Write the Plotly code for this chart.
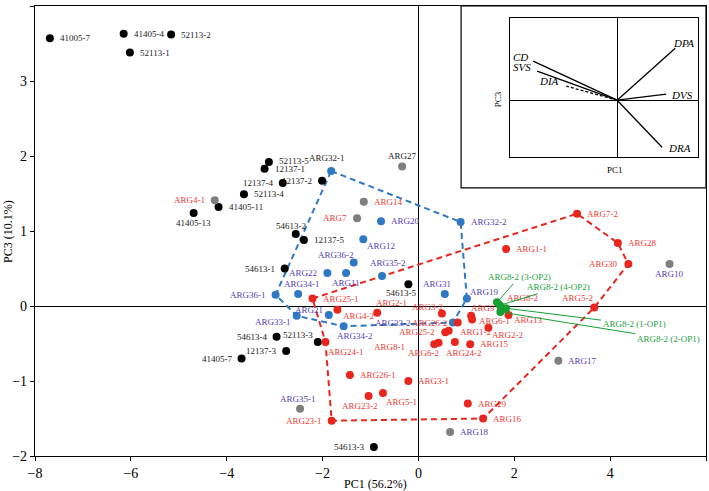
import plotly.graph_objects as go

# ---------------- data ----------------
black_names = ["41005-7", "41405-4", "52113-2", "52113-1", "52113-5", "12137-1", "12137-4", "12137-2",
               "52113-4", "41405-11", "41405-13", "54613-2", "12137-5", "54613-1", "54613-5",
               "54613-4", "52113-3", "12137-3", "41405-7", "54613-3"]
black_x = [-7.69, -6.15, -5.16, -6.02, -3.12, -3.21, -2.83, -2.01,
           -3.64, -4.17, -4.69, -2.56, -2.39, -2.79, -0.21,
           -2.96, -2.10, -2.76, -3.69, -0.93]
black_y = [3.57, 3.63, 3.62, 3.38, 1.92, 1.83, 1.64, 1.67,
           1.49, 1.32, 1.24, 0.96, 0.88, 0.50, 0.29,
           -0.41, -0.48, -0.60, -0.70, -1.88]

gray_names = ["ARG27", "ARG14", "ARG7", "ARG4-1", "ARG35-1", "ARG18", "ARG17", "ARG10"]
gray_x = [-0.34, -1.14, -1.28, -4.25, -2.47, 0.66, 2.92, 5.24]
gray_y = [1.86, 1.39, 1.17, 1.41, -1.37, -1.68, -0.73, 0.56]
gray_label_group = ["black", "red", "red", "red", "blue", "blue", "blue", "blue"]

blue_names = ["ARG32-1", "ARG32-2", "ARG20", "ARG12", "ARG36-2", "ARG22", "ARG11", "ARG35-2",
              "ARG34-1", "ARG36-1", "ARG33-1", "ARG21", "ARG34-2", "ARG31", "ARG19", "ARG33-2"]
blue_x = [-1.82, 0.88, -0.78, -1.15, -1.35, -1.90, -1.51, -0.76,
          -2.51, -2.98, -2.54, -1.87, -1.56, 0.55, 1.01, 0.72]
blue_y = [1.80, 1.12, 1.13, 0.89, 0.58, 0.44, 0.44, 0.40,
          0.16, 0.15, -0.13, -0.12, -0.27, 0.16, 0.10, -0.22]

red_names = ["ARG25-1", "ARG4-2", "ARG2-1", "ARG24-1", "ARG26-1", "ARG3-1", "ARG5-1", "ARG23-2",
             "ARG23-1", "ARG29", "ARG16", "ARG7-2", "ARG28", "ARG30", "ARG5-2", "ARG1-1",
             "ARG8-2", "ARG13", "ARG9", "ARG6-1", "ARG3-2", "ARG2-2", "ARG15", "ARG24-2",
             "ARG6-2", "ARG25-2", "ARG1-2", "ARG26-2", "ARG8-1"]
red_x = [-2.21, -1.69, -0.86, -1.94, -1.43, -0.21, -0.74, -1.04,
         -1.81, 1.03, 1.35, 3.31, 4.16, 4.38, 3.67, 1.83,
         1.72, 1.88, 1.10, 1.12, 0.49, 1.46, 1.08, 0.76,
         0.42, 0.56, 0.63, 0.82, 0.33]
red_y = [0.10, -0.05, -0.09, -0.48, -0.92, -1.00, -1.16, -1.20,
         -1.53, -1.30, -1.50, 1.23, 0.84, 0.56, -0.02, 0.76,
         -0.05, -0.12, -0.13, -0.18, -0.10, -0.29, -0.51, -0.48,
         -0.49, -0.35, -0.33, -0.22, -0.51]

green_names = ["ARG8-2 (3-OP2)", "ARG8-2 (4-OP2)", "ARG8-2 (1-OP1)", "ARG8-2 (2-OP1)"]
green_x = [1.64, 1.70, 1.83, 1.71]
green_y = [0.05, 0.01, -0.03, -0.08]

red_hull = ["ARG25-1", "ARG7-2", "ARG28", "ARG30", "ARG5-2", "ARG16", "ARG23-1", "ARG24-1", "ARG25-1"]
blue_hull = ["ARG32-1", "ARG32-2", "ARG19", "ARG33-2", "ARG34-2", "ARG33-1", "ARG36-1", "ARG32-1"]

load_names = ["DPA", "DVS", "DRA", "CD", "SVS", "DIA"]
load_x = [0.309, 0.261, 0.239, -0.447, -0.426, -0.271]
load_y = [0.374, 0.043, -0.338, 0.281, 0.209, 0.101]

x_ticks = [-8, -6, -4, -2, 0, 2, 4, 6]
y_ticks = [-2, -1, 0, 1, 2, 3, 4]

# ---------------- styles ----------------
FONT = "Liberation Serif"
LBL = 9
C_BLACK = "#000000"
C_GRAY = "#7f7f7f"
C_BLUE = "#2f78c4"
C_RED = "#e8261d"
C_GREEN = "#16a034"
T_BLACK = "#222222"
T_BLUE = "#5540b8"
T_RED = "#ec3a33"
T_GREEN = "#1aa33a"
label_color = {"black": T_BLACK, "red": T_RED, "blue": T_BLUE}

R = (8, 0, "left")
L = (-8, 0, "right")
# (dx px, dy px downward, anchor)
label_off = {
    "41005-7": R, "41405-4": R, "52113-2": R, "52113-1": R, "52113-5": (8, -1, "left"), "12137-1": R,
    "12137-4": L, "12137-2": L, "52113-4": R, "41405-11": R, "41405-13": (0, 10, "center"),
    "54613-2": (-5, -8, "center"), "12137-5": R, "54613-1": L, "54613-5": (-7, 9, "center"),
    "54613-4": L, "52113-3": (-3, -7, "right"), "12137-3": L, "41405-7": L, "54613-3": L,
    "ARG27": (0, -11, "center"), "ARG14": R, "ARG7": L, "ARG4-1": L, "ARG35-1": (-2, -10, "center"),
    "ARG18": R, "ARG17": R, "ARG10": (0, 10, "center"),
    "ARG32-1": (-4, -13, "center"), "ARG32-2": R, "ARG20": R, "ARG12": (2, 7, "left"),
    "ARG36-2": (2, -8, "right"), "ARG22": L, "ARG11": (0, 10, "center"), "ARG35-2": (6, -13, "center"),
    "ARG34-1": (4, -10, "center"), "ARG36-1": L, "ARG33-1": (-4, 6, "right"), "ARG21": (-4, -5, "right"),
    "ARG34-2": (11, 10, "center"), "ARG31": (-8, -10, "center"), "ARG19": (1, -7, "left"),
    "ARG33-2": (-40, 0, "right"),
    "ARG25-1": R, "ARG4-2": (4, 6, "left"), "ARG2-1": (-3, -10, "left"), "ARG24-1": (1, 10, "left"),
    "ARG26-1": R, "ARG3-1": R, "ARG5-1": (1, 9, "left"), "ARG23-2": (-9, 10, "center"), "ARG23-1": L,
    "ARG29": R, "ARG16": R, "ARG7-2": R, "ARG28": R, "ARG30": L, "ARG5-2": (1, -10, "right"),
    "ARG1-1": R, "ARG8-2": (4, -12, "left"), "ARG13": (3, 5, "left"), "ARG9": (-2, -8, "left"),
    "ARG6-1": (5, 1, "left"), "ARG3-2": (3, -7, "right"), "ARG2-2": (2, 7, "left"), "ARG15": R,
    "ARG24-2": (9, 11, "center"), "ARG6-2": (2, 10, "right"), "ARG25-2": L, "ARG1-2": (9, 1, "left"),
    "ARG26-2": (-8, 0, "right"), "ARG8-1": (-27, 3, "right"),
}
# green leader label text centres relative to point (px right, px up)
green_offsets = [(22, 25), (59, 18), (128, -16), (168, -27)]
# inset label placement (anchor, xshift, yshift)
inset_lbl = {"DPA": ("left", -4, 5), "DVS": ("left", 3, -1), "DRA": ("left", 4, -1),
             "CD": ("right", -3, 4), "SVS": ("right", -4, 4), "DIA": ("right", -5, 5)}

fig = go.Figure()
annos = []

def lookup(name, names, xs, ys):
    i = names.index(name)
    return xs[i], ys[i]

# hull polygons
for hull, names, xs, ys, col in [(red_hull, red_names, red_x, red_y, C_RED),
                                 (blue_hull, blue_names, blue_x, blue_y, C_BLUE)]:
    hx = [lookup(n, names, xs, ys)[0] for n in hull]
    hy = [lookup(n, names, xs, ys)[1] for n in hull]
    fig.add_trace(go.Scatter(x=hx, y=hy, mode="lines", line=dict(color=col, width=2, dash="6px,4px"),
                             hoverinfo="skip", showlegend=False))

def add_points(names, xs, ys, mcol, tcols):
    fig.add_trace(go.Scatter(x=xs, y=ys, mode="markers", marker=dict(color=mcol, size=8),
                             showlegend=False, hovertext=names))
    for n, px, py, tc in zip(names, xs, ys, tcols):
        dx, dy, anc = label_off[n]
        annos.append(dict(x=px, y=py, xref="x", yref="y", text=n, showarrow=False,
                          xanchor=anc, yanchor="middle", xshift=dx, yshift=-dy,
                          font=dict(family=FONT, size=LBL, color=tc)))

add_points(black_names, black_x, black_y, C_BLACK, [T_BLACK] * len(black_names))
add_points(gray_names, gray_x, gray_y, C_GRAY, [label_color[g] for g in gray_label_group])
add_points(blue_names, blue_x, blue_y, C_BLUE,
           [T_BLACK if n == "ARG32-1" else T_BLUE for n in blue_names])
add_points(red_names, red_x, red_y, C_RED, [T_RED] * len(red_names))
fig.add_trace(go.Scatter(x=green_x, y=green_y, mode="markers", marker=dict(color=C_GREEN, size=8),
                         showlegend=False, hovertext=green_names))

for n, gx, gy, (ax, ay) in zip(green_names, green_x, green_y, green_offsets):
    annos.append(dict(x=gx, y=gy, xref="x", yref="y", text=n, showarrow=True, arrowhead=0,
                      arrowcolor=C_GREEN, arrowwidth=1, ax=ax, ay=-ay, standoff=0,
                      font=dict(family=FONT, size=LBL, color=T_GREEN)))

# inset loading vectors
for n, lx, ly in zip(load_names, load_x, load_y):
    fig.add_trace(go.Scatter(x=[0, lx], y=[0, ly], mode="lines", xaxis="x2", yaxis="y2",
                             line=dict(color="black", width=1.3, dash="3px,2px" if n == "DIA" else "solid"),
                             showlegend=False, hoverinfo="skip"))
for n, lx, ly in zip(load_names, load_x, load_y):
    anc, sx, sy = inset_lbl[n]
    annos.append(dict(x=lx, y=ly, xref="x2", yref="y2", text="<i>" + n + "</i>", showarrow=False,
                      xanchor=anc, xshift=sx, yshift=sy, font=dict(family=FONT, size=11, color="black")))

annos.append(dict(x=0.56, y=-0.04, xref="x2 domain", yref="y2 domain", text="PC1", showarrow=False,
                  yanchor="top", font=dict(family=FONT, size=9, color="black")))
annos.append(dict(x=-0.03, y=0.42, xref="x2 domain", yref="y2 domain", text="PC3", showarrow=False,
                  textangle=-90, xanchor="right", font=dict(family=FONT, size=9, color="black")))

# main axis titles
annos.append(dict(x=0.507, y=-0.042, xref="paper", yref="paper", text="PC1 (56.2%)", showarrow=False,
                  yanchor="top", font=dict(family=FONT, size=12, color="black")))
annos.append(dict(x=-0.027, y=0.5, xref="paper", yref="paper", text="PC3 (10.1%)", showarrow=False,
                  textangle=-90, xanchor="right", font=dict(family=FONT, size=12, color="black")))

shapes = [dict(type="rect", xref="paper", yref="paper", x0=0.635, x1=1.0, y0=0.596, y1=1.0,
               line=dict(color="black", width=1.2), fillcolor="rgba(0,0,0,0)", layer="above")]

axis_common = dict(ticks="outside", ticklen=4, tickcolor="black", showline=True, linecolor="black",
                   linewidth=1.3, mirror=True, showgrid=False, zeroline=True, zerolinecolor="black",
                   zerolinewidth=1.3, automargin=False, tickfont=dict(family=FONT, size=14))

fig.update_layout(
    width=709, height=491,
    margin=dict(l=35, r=3, t=6, b=35),
    paper_bgcolor="white", plot_bgcolor="white",
    font=dict(family=FONT, size=14, color="black"),
    annotations=annos, shapes=shapes,
    xaxis=dict(range=[-8, 6], tickvals=x_ticks, **axis_common),
    yaxis=dict(range=[-2, 4], tickvals=y_ticks, **axis_common),
    xaxis2=dict(domain=[0.708, 0.988], anchor="y2", range=[-0.57, 0.43], showticklabels=False,
                ticks="", showgrid=False, showline=True, mirror=True, linecolor="black", linewidth=1,
                zeroline=True, zerolinecolor="black", zerolinewidth=1),
    yaxis2=dict(domain=[0.664, 0.973], anchor="x2", range=[-0.41, 0.59], showticklabels=False,
                ticks="", showgrid=False, showline=True, mirror=True, linecolor="black", linewidth=1,
                zeroline=True, zerolinecolor="black", zerolinewidth=1),
)

fig.write_html("out.html", config={"displayModeBar": False},
               post_script="document.body.style.margin='0';")
